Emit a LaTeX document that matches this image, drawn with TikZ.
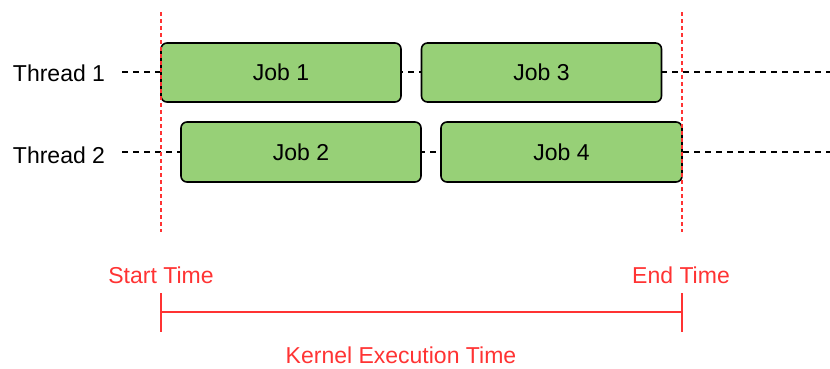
\documentclass[tikz,border=0pt]{standalone}
\usepackage{fontspec}
\setmainfont{Liberation Sans}
\definecolor{jobgreen}{HTML}{97D077}
\definecolor{tred}{HTML}{FF3333}
\begin{document}
\begin{tikzpicture}[x=1pt,y=-1pt,
  job/.style={draw=black, line width=1.6pt, fill=jobgreen, rounded corners=6pt, inner sep=0pt, font=\fontsize{23}{26}\selectfont},
  lbl/.style={font=\fontsize{23}{26}\selectfont, inner sep=0pt},
  rlbl/.style={font=\fontsize{23}{26}\selectfont, inner sep=0pt, text=tred},
  tline/.style={draw=black, line width=1.5pt, dash pattern=on 6pt off 5pt},
  rdash/.style={draw=tred, line width=1.3pt, dash pattern=on 4pt off 3pt},
  rline/.style={draw=tred, line width=1.3pt}]
\useasboundingbox (0,0) rectangle (830,368);
% thread labels and timelines
\node[lbl] (t1) at (59,73) {Thread 1};
\node[lbl] (t2) at (59,155) {Thread 2};
\coordinate (t1s) at (122,72);
\coordinate (t1e) at (830,72);
\coordinate (t2s) at (122,152);
\coordinate (t2e) at (830,152);
\draw[tline] (t1s) -- (t1e);
\draw[tline] (t2s) -- (t2e);
% jobs
\node[job, minimum width=240pt, minimum height=59pt] (j1) at (281,72.5) {Job 1};
\node[job, minimum width=240pt, minimum height=59pt] (j3) at (541.5,72.5) {Job 3};
\node[job, minimum width=240pt, minimum height=60pt] (j2) at (301,152) {Job 2};
\node[job, minimum width=241pt, minimum height=60pt] (j4) at (561.5,152) {Job 4};
% red markers
\coordinate (st) at (161,12);
\coordinate (sb) at (161,232);
\coordinate (et) at (682,12);
\coordinate (eb) at (682,232);
\draw[rdash] (st) -- (sb);
\draw[rdash] (et) -- (eb);
\node[rlbl] (start) at (161,275) {Start Time};
\node[rlbl] (end) at (681,275) {End Time};
\coordinate (a1) at (161,293);
\coordinate (a2) at (161,332);
\coordinate (b1) at (682,293);
\coordinate (b2) at (682,332);
\coordinate (am) at (161,312);
\coordinate (bm) at (682,312);
\draw[rline] (a1) -- (a2);
\draw[rline] (b1) -- (b2);
\draw[rline] (am) -- (bm);
\node[rlbl] (ket) at (401,355) {Kernel Execution Time};
\end{tikzpicture}
\end{document}
